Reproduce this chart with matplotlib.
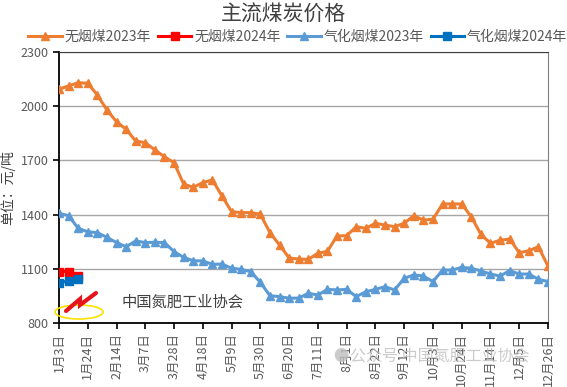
import matplotlib
matplotlib.use('Agg')
import matplotlib.pyplot as plt
from matplotlib.patches import Ellipse

plt.rcParams['font.family'] = ['Noto Sans CJK SC', 'DejaVu Sans']

# weekly dates (category axis)
dates = ['1月3日', '1月10日', '1月17日', '1月24日', '1月31日', '2月7日', '2月14日', '2月21日',
         '2月28日', '3月7日', '3月14日', '3月21日', '3月28日', '4月4日', '4月11日', '4月18日',
         '4月25日', '5月2日', '5月9日', '5月16日', '5月23日', '5月30日', '6月6日', '6月13日',
         '6月20日', '6月27日', '7月4日', '7月11日', '7月18日', '7月25日', '8月1日', '8月8日',
         '8月15日', '8月22日', '8月29日', '9月5日', '9月12日', '9月19日', '9月26日', '10月3日',
         '10月10日', '10月17日', '10月24日', '10月31日', '11月7日', '11月14日', '11月21日',
         '11月28日', '12月5日', '12月12日', '12月19日', '12月26日']

anthracite_2023 = [2094, 2112, 2130, 2127, 2062, 1979, 1914, 1872, 1807, 1798, 1758, 1720, 1687,
                   1569, 1551, 1577, 1592, 1503, 1416, 1411, 1411, 1402, 1300, 1232, 1160, 1154,
                   1152, 1186, 1197, 1282, 1283, 1333, 1324, 1352, 1342, 1333, 1352, 1394, 1370,
                   1374, 1459, 1459, 1459, 1388, 1291, 1241, 1258, 1265, 1189, 1200, 1222, 1115]
anthracite_2024 = [1085, 1085, 1060]
gasif_2023 = [1407, 1394, 1324, 1305, 1300, 1274, 1245, 1222, 1254, 1245, 1247, 1245, 1195,
              1163, 1145, 1143, 1125, 1126, 1103, 1097, 1084, 1025, 951, 946, 937, 938,
              964, 955, 986, 983, 986, 946, 973, 986, 1001, 983, 1047, 1066, 1060,
              1029, 1093, 1093, 1108, 1103, 1088, 1071, 1060, 1090, 1071, 1071, 1042, 1029]
gasif_2024 = [1020, 1035, 1042]

x = list(range(len(dates)))
W, H = 567, 387
fig = plt.figure(figsize=(W / 100, H / 100), dpi=100)
ax = fig.add_axes([59 / W, 1 - 323 / H, (548 - 59) / W, (323 - 52) / H])

ax.plot(x, anthracite_2023, color='#ED7D31', lw=2.2, marker='^', ms=6, label='无烟煤2023年', zorder=3)
ax.plot(x[:3], anthracite_2024, color='#FF0000', lw=2.2, marker='s', ms=5.5, label='无烟煤2024年', zorder=4)
ax.plot(x, gasif_2023, color='#5B9BD5', lw=2.2, marker='^', ms=6, label='气化烟煤2023年', zorder=3)
ax.plot(x[:3], gasif_2024, color='#0070C0', lw=2.2, marker='s', ms=5.5, label='气化烟煤2024年', zorder=4)

ax.set_xlim(0, len(dates) - 1)
ax.set_ylim(800, 2300)
ax.set_yticks([800, 1100, 1400, 1700, 2000, 2300])
ax.set_xticks(x[::3])
ax.set_xticklabels(dates[::3], rotation=90)
ax.tick_params(axis='both', labelsize=9, length=4, width=1.2, colors='black', labelcolor='#595959')
ax.grid(axis='y', color='#A6A6A6', lw=1)
ax.set_axisbelow(True)
for s in ['left', 'bottom']:
    ax.spines[s].set_color('black')
    ax.spines[s].set_linewidth(1.3)
ax.spines['top'].set_color('#404040')
ax.spines['right'].set_color('#808080')

ax.set_ylabel('单位：元/吨', fontsize=10, color='#404040', labelpad=4)

fig.text(0.5, 1 - 15 / H, '主流煤炭价格', ha='center', va='center', fontsize=15, color='#404040')
fig.legend(loc='center', bbox_to_anchor=(0.525, 1 - 37 / H), ncol=4, frameon=False,
           fontsize=10, labelcolor='#595959', handlelength=2.4, handletextpad=0.2,
           columnspacing=0.5, borderaxespad=0)

# logo and watermark texts
fig.add_artist(Ellipse((79 / W, 1 - 312 / H), 48 / W, 14 / H, transform=fig.transFigure,
                       fill=False, ec='#FFE000', lw=1.2))
lx = [66, 80, 80, 96]
ly = [311, 299, 305, 293]
fig.add_artist(plt.Line2D([v / W for v in lx], [1 - v / H for v in ly], transform=fig.transFigure,
                          color='#E8141C', lw=3, solid_capstyle='round', solid_joinstyle='miter'))
fig.text(122 / W, 1 - 302 / H, '中国氮肥工业协会', ha='left', va='center', fontsize=11, color='#404040')
fig.text(333 / W, 1 - 357 / H, '●', ha='left', va='center', fontsize=11, color='#BFBFBF', alpha=0.8)
fig.text(350 / W, 1 - 357 / H, '公众号 中国氮肥工业协会', ha='left', va='center', fontsize=11.5,
         color='#BFBFBF', alpha=0.8)

fig.savefig('out.png', dpi=100)
